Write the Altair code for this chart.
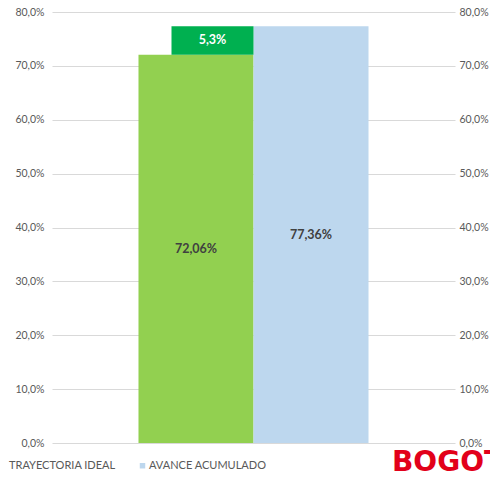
import altair as alt
import pandas as pd

categories = ["TRAYECTORIA IDEAL", "AVANCE ACUMULADO"]
values = [72.06, 77.36]
bar_colors = ["#92D050", "#BDD7EE"]
gap_color = "#00B050"
tick_values = [0, 10, 20, 30, 40, 50, 60, 70, 80]

df = pd.DataFrame({"serie": categories, "valor": values})
df["etiqueta"] = [f"{v:.2f}".replace(".", ",") + "%" for v in values]
gap = pd.DataFrame({
    "serie": [categories[0]],
    "desde": [values[0]],
    "hasta": [values[1]],
    "etiqueta": [f"{values[1] - values[0]:.1f}".replace(".", ",") + "%"],
})
logo = pd.DataFrame({"t": ["BOGOTÁ"]})

FONT = "Lato"
label_expr = "replace(format(datum.value, '.1f'), '.', ',') + '%'"
yscale = alt.Scale(domain=[0, 80], nice=False)
xenc = alt.X("serie:N", sort=categories, axis=None,
             scale=alt.Scale(paddingInner=0, paddingOuter=0.752))

bars = alt.Chart(df).mark_bar().encode(
    x=xenc,
    y=alt.Y("valor:Q", scale=yscale, title=None,
            axis=alt.Axis(orient="left", values=tick_values, labelExpr=label_expr,
                          domain=False, ticks=False, grid=True, gridColor="#D9D9D9",
                          labelColor="#595959", labelFontSize=10.5, labelFont=FONT,
                          labelPadding=8)),
    color=alt.Color("serie:N", sort=categories,
                    scale=alt.Scale(domain=categories, range=bar_colors),
                    legend=alt.Legend(title=None, orient="none", direction="horizontal",
                                      legendX=-55, legendY=448, symbolType="square",
                                      symbolSize=30, symbolStrokeWidth=0,
                                      labelFont=FONT, labelFontSize=11,
                                      labelColor="#595959", labelOffset=1,
                                      columnPadding=21)),
)

gap_bar = alt.Chart(gap).mark_bar(color=gap_color, width={"band": 0.713}, xOffset=16.5).encode(
    x=xenc,
    y=alt.Y("desde:Q", scale=yscale, title=None,
            axis=alt.Axis(orient="right", values=tick_values, labelExpr=label_expr,
                          domain=False, ticks=False, grid=False,
                          labelColor="#595959", labelFontSize=10.5, labelFont=FONT,
                          labelPadding=4)),
    y2="hasta:Q",
)

bar_text = alt.Chart(df).transform_calculate(mid="datum.valor / 2").mark_text(
    font=FONT, fontWeight="bold", fontSize=12.5, color="#404040"
).encode(
    x=xenc,
    y=alt.Y("mid:Q", scale=yscale, axis=None),
    text="etiqueta:N",
)

gap_text = alt.Chart(gap).transform_calculate(mid="(datum.desde + datum.hasta) / 2").mark_text(
    font=FONT, fontWeight="bold", fontSize=12.5, color="white", xOffset=16.5
).encode(
    x=xenc,
    y=alt.Y("mid:Q", scale=yscale, axis=None),
    text="etiqueta:N",
)

logo_text = alt.Chart(logo).mark_text(
    font="DejaVu Sans", fontWeight="bold", fontSize=28, color="#E2001A",
    align="left", baseline="alphabetic"
).encode(
    x=alt.value(340), y=alt.value(459), text="t:N"
)

chart = alt.layer(bars, gap_bar, bar_text, gap_text, logo_text).resolve_axis(
    y="independent"
).properties(
    width=403, height=431,
    autosize=alt.AutoSizeParams(type="none"),
    padding={"left": 44, "top": 4, "right": 35, "bottom": 28},
).configure_view(stroke=None)

chart.save("out.html", embed_options={"renderer": "svg", "actions": False})
